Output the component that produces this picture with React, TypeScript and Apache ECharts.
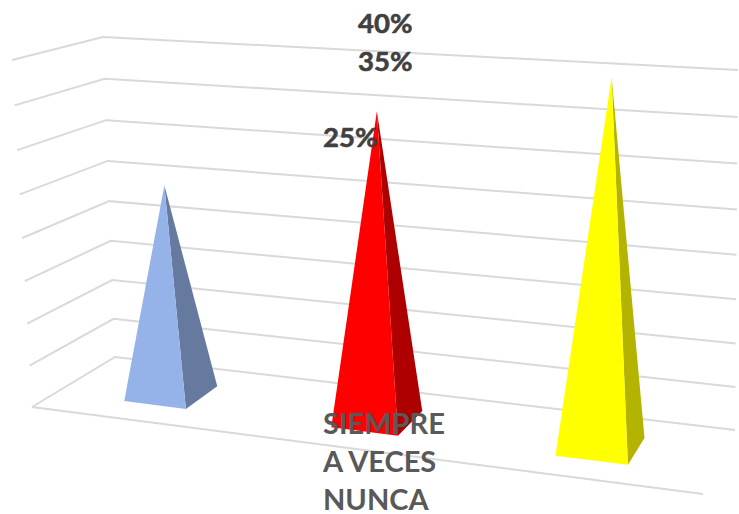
import React, { useEffect, useRef } from "react";
import * as echarts from "echarts";

const categories = ["SIEMPRE", "A VECES", "NUNCA"];
const values = [25, 35, 40];
const ticks = [0, 5, 10, 15, 20, 25, 30, 35, 40];
const frontColors = ["#95B3E8", "#FF0000", "#FFFF00"];
const sideColors = ["#667A9F", "#AE0000", "#B3B300"];

// Corners of the 3D box on screen: [front/back][left/right], floor and ceiling
const floorBox = { fl: [32, 407], bl: [115, 357], br: [735, 430], fr: [703, 494] };
const topBox = { fl: [12, 60], bl: [103, 37], br: [738, 70], fr: [735, 97] };
const WARP = 1.128;
const HEIGHT_WARP = 1.053;
const BAR_FRACTION = 0.306;
const DEPTH_FRONT = 0.29;
const DEPTH_BACK = 0.72;

const lerp = (a: number, b: number, t: number) => a + (b - a) * t;
function project(uRaw: number, w: number, tRaw: number): number[] {
  const u = uRaw / (uRaw + WARP * (1 - uRaw));
  const t = tRaw / (tRaw + HEIGHT_WARP * (1 - tRaw));
  const corner = (box: any) => {
    const f = [lerp(box.fl[0], box.fr[0], u), lerp(box.fl[1], box.fr[1], u)];
    const b = [lerp(box.bl[0], box.br[0], u), lerp(box.bl[1], box.br[1], u)];
    return [lerp(f[0], b[0], w), lerp(f[1], b[1], w)];
  };
  const lo = corner(floorBox);
  const hi = corner(topBox);
  return [lerp(lo[0], hi[0], t), lerp(lo[1], hi[1], t)];
}

const gridLineStyle = { stroke: "#D9D9D9", lineWidth: 2, fill: "none" };

function renderGridLine(params: any, api: any) {
  const cs = params.coordSys;
  const y = api.coord([0, api.value(0)])[1];
  const t = (cs.y + cs.height - y) / cs.height;
  const points = [project(0, 0, t), project(0, 1, t), project(1, 1, t)];
  const children: any[] = [
    { type: "polyline", shape: { points }, style: gridLineStyle, silent: true },
  ];
  if (api.value(0) === 0) {
    children.push({
      type: "polyline",
      shape: { points: [project(0, 0, 0), project(1, 0, 0)] },
      style: gridLineStyle,
      silent: true,
    });
  }
  return { type: "group", children };
}

function renderPyramid(params: any, api: any) {
  const cs = params.coordSys;
  const i = api.value(0);
  const pt = api.coord([i, api.value(1)]);
  const band = api.size([1, 0])[0];
  const half = (band * BAR_FRACTION) / 2;
  const uAt = (x: number) => (x - cs.x) / cs.width;
  const t = (cs.y + cs.height - pt[1]) / cs.height;
  const l = uAt(pt[0] - half);
  const r = uAt(pt[0] + half);
  const fl = project(l, DEPTH_FRONT, 0);
  const fr = project(r, DEPTH_FRONT, 0);
  const br = project(r, DEPTH_BACK, 0);
  const apex = project(uAt(pt[0]), (DEPTH_FRONT + DEPTH_BACK) / 2, t);
  return {
    type: "group",
    children: [
      { type: "polygon", shape: { points: [fr, br, apex] }, style: { fill: sideColors[i] } },
      { type: "polygon", shape: { points: [fl, fr, apex] }, style: { fill: frontColors[i] } },
    ],
  };
}

const labelPositions = [
  [323, 136],
  [358, 60],
  [358, 22],
];
const legendY = [422, 460, 498];

export default function App() {
  const ref = useRef<HTMLDivElement>(null);
  useEffect(() => {
    document.body.style.margin = "0";
    const chart = echarts.init(ref.current!, null, { renderer: "svg" });
    chart.setOption({
      animation: false,
      backgroundColor: "#FFFFFF",
      grid: { left: 100, top: 100, width: 500, height: 300 },
      xAxis: { type: "category", data: categories, show: false },
      yAxis: { type: "value", min: 0, max: 40, interval: 5, show: false },
      series: [
        {
          type: "custom",
          silent: true,
          clip: false,
          z: 1,
          data: ticks.map((v) => [v]),
          encode: { y: 0 },
          renderItem: renderGridLine,
        },
        {
          type: "custom",
          silent: true,
          clip: false,
          z: 2,
          data: values.map((v, i) => [i, v]),
          encode: { x: 0, y: 1 },
          renderItem: renderPyramid,
        },
      ],
      graphic: [
        ...values.map((v, i) => ({
          type: "text",
          z: 10,
          x: labelPositions[i][0],
          y: labelPositions[i][1],
          style: {
            text: `${v}%`,
            fill: "#404040",
            stroke: "#404040",
            lineWidth: 0.6,
            font: "bold 27.5px Lato, sans-serif",
            textVerticalAlign: "middle",
          },
        })),
        ...categories.map((c, i) => ({
          type: "text",
          z: 10,
          x: 323,
          y: legendY[i],
          style: {
            text: c,
            fill: "#595959",
            font: "bold 29px Lato, sans-serif",
            lineHeight: 30,
            textVerticalAlign: "middle",
          },
        })),
      ],
    });
    return () => chart.dispose();
  }, []);
  return <div ref={ref} style={{ width: 739, height: 514 }} />;
}
